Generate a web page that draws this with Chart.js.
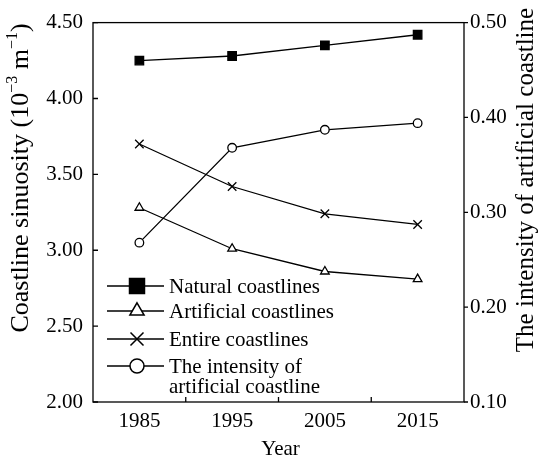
<!DOCTYPE html>
<html>
<head>
<meta charset="utf-8">
<script src="https://cdn.jsdelivr.net/npm/chart.js@4.4.0/dist/chart.umd.min.js"></script>
<style>
    html, body { margin: 0; padding: 0; background: #fff; }
    #contenedor { width: 538px; height: 457px; }
</style>
</head>
<body>
<div id="contenedor"><canvas id="graficoCosta"></canvas></div>
<script>
// Datos de sinuosidad de costa por año
const anios = ['1985', '1995', '2005', '2015'];
const costaNatural = [4.25, 4.28, 4.35, 4.42];
const costaArtificial = [3.28, 3.01, 2.86, 2.81];
const costaTotal = [3.70, 3.42, 3.24, 3.17];
const intensidadArtificial = [0.268, 0.368, 0.387, 0.394];

// Marcas de los ejes
const ticksIzq = [2.0, 2.5, 3.0, 3.5, 4.0, 4.5];
const ticksDer = [0.1, 0.2, 0.3, 0.4, 0.5];

const FUENTE = '"Liberation Serif", "Times New Roman", serif';
const TAM = 21;

// Texto girado -90°, con partes en superíndice
function textoVertical(ctx, partes, cx, cy, tam) {
    ctx.save();
    ctx.translate(cx, cy);
    ctx.rotate(-Math.PI / 2);
    ctx.textBaseline = 'middle';
    ctx.textAlign = 'left';
    let total = 0;
    partes.forEach(p => {
        ctx.font = (p.sup ? Math.round(tam * 0.62) : tam) + 'px ' + FUENTE;
        p.ancho = ctx.measureText(p.t).width;
        total += p.ancho;
    });
    let x = -total / 2;
    partes.forEach(p => {
        ctx.font = (p.sup ? Math.round(tam * 0.62) : tam) + 'px ' + FUENTE;
        ctx.fillText(p.t, x, p.sup ? -tam * 0.32 : 0);
        x += p.ancho;
    });
    ctx.restore();
}

// Marco, marcas de los ejes y títulos
const marcoYEjes = {
    id: 'marcoYEjes',
    afterDraw(chart) {
        const ctx = chart.ctx;
        const { left, right, top, bottom } = chart.chartArea;
        const sx = chart.scales.x, sy = chart.scales.y, sy1 = chart.scales.y1;
        ctx.save();
        ctx.strokeStyle = '#000';
        ctx.fillStyle = '#000';
        ctx.lineWidth = 1.3;
        ctx.strokeRect(left, top, right - left, bottom - top);

        ctx.beginPath();
        sy.ticks.forEach((t, i) => {
            const p = sy.getPixelForTick(i);
            ctx.moveTo(left, p); ctx.lineTo(left + 5, p);
        });
        sy1.ticks.forEach((t, i) => {
            const p = sy1.getPixelForTick(i);
            ctx.moveTo(right, p); ctx.lineTo(right + 4, p);
        });
        for (let i = 1; i < sx.ticks.length; i++) {
            const p = (sx.getPixelForTick(i - 1) + sx.getPixelForTick(i)) / 2;
            ctx.moveTo(p, bottom); ctx.lineTo(p, bottom - 5);
        }
        ctx.stroke();

        // Títulos de los ejes
        ctx.font = TAM + 'px ' + FUENTE;
        ctx.textAlign = 'center';
        ctx.textBaseline = 'alphabetic';
        ctx.fillText('Year', (left + right) / 2 + 2, 455);

        textoVertical(ctx, [
            { t: 'Coastline sinuosity (10' },
            { t: '\u22123', sup: true },
            { t: ' m' },
            { t: '\u22121', sup: true },
            { t: ')' }
        ], 21, 178, 26);
        textoVertical(ctx, [{ t: 'The intensity of artificial coastline' }], 526, 180, 25);
        ctx.restore();
    }
};

// Leyenda dentro del área del gráfico
const leyendaInterna = {
    id: 'leyendaInterna',
    afterDraw(chart) {
        const ctx = chart.ctx;
        const filas = [
            { y: 286, radio: 10.6, lineas: [chart.data.datasets[0].label] },
            { y: 311, radio: 8.2, lineas: [chart.data.datasets[1].label] },
            { y: 339, radio: 9.2, lineas: [chart.data.datasets[2].label] },
            { y: 366, radio: 7, lineas: ['The intensity of', 'artificial coastline'] }
        ];
        ctx.save();
        filas.forEach((f, i) => {
            const ds = chart.data.datasets[i];
            ctx.strokeStyle = '#000';
            ctx.lineWidth = 1.5;
            ctx.beginPath();
            ctx.moveTo(107, f.y); ctx.lineTo(164, f.y);
            ctx.stroke();
            ctx.fillStyle = ds.pointBackgroundColor;
            Chart.helpers.drawPoint(ctx, {
                pointStyle: ds.pointStyle, radius: f.radio, rotation: 0, borderWidth: 1.5
            }, 137, f.y);
            ctx.fillStyle = '#000';
            ctx.font = TAM + 'px ' + FUENTE;
            ctx.textAlign = 'left';
            ctx.textBaseline = 'middle';
            f.lineas.forEach((l, k) => ctx.fillText(l, 169, f.y + 1 + k * 20));
        });
        ctx.restore();
    }
};

const opcionesTicks = { color: '#000', font: { family: FUENTE, size: TAM } };
const sinRejilla = { display: false, drawTicks: false };
const serie = (label, data, estilo, radio, relleno, eje) => ({
    label: label,
    data: data,
    yAxisID: eje,
    borderColor: '#000',
    borderWidth: 1.3,
    pointStyle: estilo,
    pointRadius: radio,
    pointBorderWidth: 1.3,
    pointBorderColor: '#000',
    pointBackgroundColor: relleno,
    backgroundColor: relleno,
    fill: false,
    tension: 0
});

const ctxCosta = document.getElementById('graficoCosta').getContext('2d');
new Chart(ctxCosta, {
    type: 'line',
    data: {
        labels: anios,
        datasets: [
            serie('Natural coastlines', costaNatural, 'rect', 6, '#000', 'y'),
            serie('Artificial coastlines', costaArtificial, 'triangle', 5, '#fff', 'y'),
            serie('Entire coastlines', costaTotal, 'crossRot', 6, '#fff', 'y'),
            serie('The intensity of artificial coastline', intensidadArtificial, 'circle', 4.3, '#fff', 'y1')
        ]
    },
    options: {
        responsive: true,
        maintainAspectRatio: false,
        animation: false,
        layout: { padding: { top: 17, left: 0, right: 0, bottom: 0 } },
        plugins: {
            legend: { display: false },
            tooltip: { enabled: false }
        },
        scales: {
            x: {
                offset: true,
                grid: sinRejilla,
                border: { display: false },
                ticks: { ...opcionesTicks, padding: 7, maxRotation: 0 },
                afterFit: s => { s.height = 55; }
            },
            y: {
                position: 'left',
                min: 2, max: 4.5,
                grid: sinRejilla,
                border: { display: false },
                ticks: { ...opcionesTicks, padding: 10, callback: v => v.toFixed(2) },
                afterBuildTicks: s => { s.ticks = ticksIzq.map(v => ({ value: v })); },
                afterFit: s => { s.width = 93; }
            },
            y1: {
                position: 'right',
                min: 0.1, max: 0.5,
                grid: sinRejilla,
                border: { display: false },
                ticks: { ...opcionesTicks, padding: 6, callback: v => v.toFixed(2) },
                afterBuildTicks: s => { s.ticks = ticksDer.map(v => ({ value: v })); },
                afterFit: s => { s.width = 74; }
            }
        }
    },
    plugins: [marcoYEjes, leyendaInterna]
});
</script>
</body>
</html>
